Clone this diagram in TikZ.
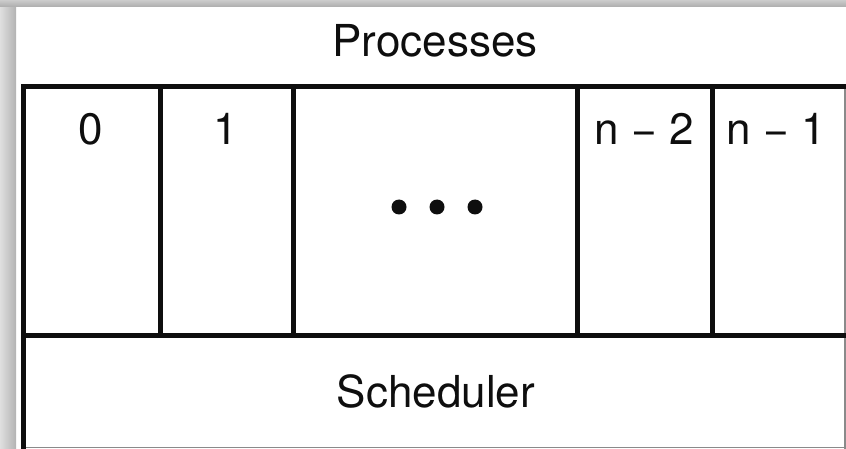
\documentclass[tikz,border=0pt]{standalone}
\usepackage{fontspec}
\setmainfont{TeX Gyre Heros}
\definecolor{frameink}{HTML}{0E0E0E}
\definecolor{edgegray}{HTML}{8A8A8A}

\begin{document}
\begin{tikzpicture}[
  x=1pt, y=-1pt,
  every node/.style={font=\fontsize{44}{52}\selectfont, text=frameink, inner sep=0pt},
  rule/.style={frameink, line width=5pt},
  edge/.style={edgegray, line width=1.5pt},
  dot/.style={circle, fill=frameink, minimum size=15pt}
]
  \useasboundingbox (0,0) rectangle (846,449);

  %% ---- shadow frame -------------------------------------------------
  \fill[white] (0,0) rectangle (846,449);
  \shade[left color=gray!25, right color=gray!60] (0,0) rectangle (16,449);
  \shade[top color=gray!40, bottom color=gray!65] (0,0) rectangle (846,7);

  %% ---- outline of the table ----------------------------------------
  \draw[edge] (845,87) -- (845,449);
  \draw[edge] (23,447.5) -- (846,447.5);
  \draw[rule] (23,87) -- (846,87);
  \draw[rule] (23,335) -- (846,335);
  \draw[rule] (23,84.5) -- (23,449);

  %% ---- column dividers ---------------------------------------------
  \foreach \c in {160,293,577,712}
    \draw[rule] (\c,87) -- (\c,335);

  %% ---- labels ------------------------------------------------------
  \node[anchor=base] (procs) at (435,57)  {Processes};
  \node[anchor=base] (sched) at (436,407) {Scheduler};

  \node[anchor=base] (p0)  at (91,145)  {0};
  \node[anchor=base] (p1)  at (226,145) {1};
  \node[anchor=base] (pn2) at (644,145) {n \char"2212{} 2};
  \node[anchor=base] (pn1) at (776,145) {n \char"2212{} 1};

  %% three dots in the middle column
  \foreach \d in {399,437,475}
    \node[dot] (dot\d) at (\d,207) {};

\end{tikzpicture}
\end{document}
